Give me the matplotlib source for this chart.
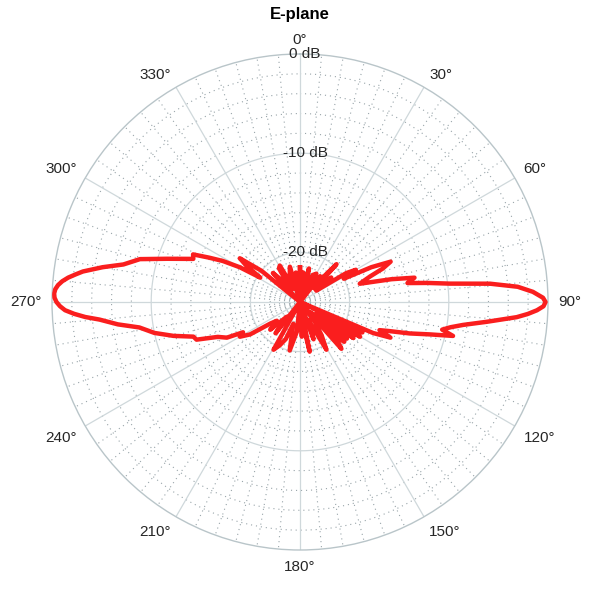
import numpy as np
import matplotlib
matplotlib.use("Agg")
import matplotlib.pyplot as plt

plt.rcParams['font.family'] = ['Liberation Sans', 'DejaVu Sans']

# ---- data (angle in degrees, clockwise from north; gain in dB) ----
angles_deg = [0, 3, 6, 10, 15, 20, 25, 30, 34, 38, 41, 44, 48, 52, 55, 58, 60, 62, 64, 66,
              68, 70, 73, 76, 78, 80, 81.5, 83, 84.5, 86, 87.5, 89, 90, 91, 92, 93, 94, 96,
              98, 99.5, 101, 102.5, 104, 106, 108, 109.5, 111.5, 113, 114.5, 116, 118, 120,
              122, 124, 126, 128, 130, 132, 134, 136, 138.5, 140, 143, 147, 151, 155, 160,
              165, 169, 173, 177, 181, 186, 192, 197, 201, 205, 209, 213, 218, 222, 227,
              231, 234, 237, 240, 242, 244, 247, 250, 252, 255, 258, 261, 263, 265, 266,
              267, 268, 269, 270, 271, 272, 273, 274, 275, 276, 277, 278, 280, 282, 285,
              288, 292, 294, 296, 298, 300, 301.5, 304, 306, 309, 313, 317, 320, 324, 328,
              331, 335, 340, 344, 348, 352, 356, 360]
gain_db = [-21.5, -23.5, -22, -25, -21.5, -24, -22, -21.7, -25, -21.7, -23, -19.7, -23, -21,
           -23, -19.5, -18.5, -20, -17, -15, -16, -17.5, -18.7, -15.5, -13.2, -14, -12, -9.8,
           -5.75, -3, -1.5, -0.5, -0.25, -0.45, -1.1, -2, -3.1, -6, -8.4, -9.6, -10.4, -9.2,
           -11.5, -13.5, -15.5, -16.5, -15.2, -17, -25, -18, -22, -18, -23, -18.5, -22.5,
           -19, -23, -19, -23.5, -19.5, -18.7, -25, -22.5, -21, -19.5, -23, -21, -25, -19.9,
           -23, -21.5, -25, -22, -20, -22.7, -21, -20.2, -19.5, -25, -21, -23, -20.9, -22,
           -21.3, -19, -18, -18.5, -16.8, -16, -13.9, -13.7, -11.8, -10, -8.6, -6.5, -4.7,
           -3.3, -2.2, -1.3, -0.8, -0.45, -0.25, -0.2, -0.3, -0.55, -0.95, -1.5, -2.2, -2.9,
           -4.8, -6.8, -8.3, -10.9, -13.4, -13.2, -14.8, -16.2, -18, -20.3, -18.5, -17.5,
           -20, -25, -21, -22.1, -23.5, -21, -20.8, -23.5, -22, -21.3, -25, -22, -24, -21.5]
assert len(angles_deg) == len(gain_db)

theta_ticks = [0, 30, 60, 90, 120, 150, 180, 210, 240, 270, 300, 330]
theta_labels = [f"{a}°" for a in theta_ticks]
r_ticks = [0, -10, -20]
r_labels = ["0 dB", "-10 dB", "-20 dB"]
r_min, r_max = -25, 0

# ---- figure ----
W, H = 600, 607
fig = plt.figure(figsize=(W / 100, H / 100), dpi=100)
cx, cy, R = 300, 302, 248
ax = fig.add_axes([(cx - R) / W, (H - cy - R) / H, 2 * R / W, 2 * R / H], projection='polar')
ax.set_theta_zero_location('N')
ax.set_theta_direction(-1)
ax.set_ylim(r_min, r_max)
ax.set_xticks([])
ax.set_yticks([])
ax.grid(False)
ax.spines['polar'].set_color('#b9c5c9')
ax.spines['polar'].set_linewidth(1.0)

solid_c = '#cfd8db'
dot_c = '#98a4a9'
tt = np.linspace(0, 2 * np.pi, 721)

# radial circles
for v in range(-24, 0, 2):
    if v in r_ticks:
        ax.plot(tt, np.full_like(tt, v), color=solid_c, lw=0.9, zorder=1)
    else:
        ax.plot(tt, np.full_like(tt, v), color=dot_c, lw=0.8, ls=(0, (1, 3.5)), zorder=1)

# angular lines
for a in range(0, 360, 5):
    th = np.deg2rad(a)
    if a % 30 == 0:
        ax.plot([th, th], [r_min, r_max], color=solid_c, lw=0.9, zorder=1)
    else:
        ax.plot([th, th], [r_min, r_max], color=dot_c, lw=0.8, ls=(0, (1, 3.5)), zorder=1)

# pattern
ax.plot(np.deg2rad(angles_deg), gain_db, color='#fa1e1e', lw=3.2, zorder=3,
        solid_joinstyle='round')

# theta labels (anchored just outside the rim, aligned by quadrant)
gap = 10
for a, lab in zip(theta_ticks, theta_labels):
    th = np.deg2rad(a)
    s, c = np.sin(th), np.cos(th)
    ha = 'left' if s > 1e-6 else ('right' if s < -1e-6 else 'center')
    va = 'baseline' if c > 1e-6 else ('top' if c < -1e-6 else 'center')
    ax.annotate(lab, xy=(th, r_max), xytext=(gap * s, gap * c),
                textcoords='offset pixels', ha=ha, va=va,
                fontsize=11, color='#262626', annotation_clip=False)

# r labels
for v, lab in zip(r_ticks, r_labels):
    ax.annotate(lab, xy=(0, v), xytext=(5, 0), textcoords='offset pixels',
                ha='center', va='center', fontsize=11, color='#262626',
                annotation_clip=False, zorder=4)

fig.text(0.5, 1 - 15 / H, 'E-plane', ha='center', va='center',
         fontsize=12, fontweight='bold', color='#000000')

fig.savefig('out.png', dpi=100)
